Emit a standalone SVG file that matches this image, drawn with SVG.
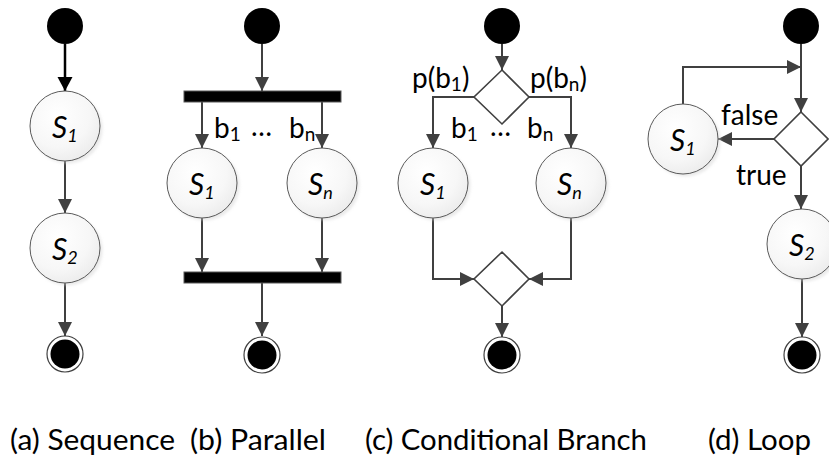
<svg xmlns="http://www.w3.org/2000/svg" width="829" height="461" viewBox="0 0 829 461">
<defs>
<style>
.ln{fill:none;stroke:#404040;stroke-width:2}
.lnb{fill:none;stroke:#000;stroke-width:2.5}
.st{fill:url(#g);stroke:#5a5a5a;stroke-width:1}
.sh{fill:#d4d4d4;opacity:0.5;filter:url(#blur)}
.start{fill:#000}
.endo{fill:#fff;stroke:#404040;stroke-width:1.2}
.endi{fill:#000}
.bar{fill:#000;stroke:#595959;stroke-width:1}
.dia{fill:#fff;stroke:#404040;stroke-width:1.6}
.lbl{font-family:Lato,"Liberation Sans",sans-serif;font-size:28px;fill:#000}
.s{font-family:Lato,"Liberation Sans",sans-serif;font-size:30px;font-style:italic;fill:#000}
.sub{font-size:18px}
.cap{font-family:Lato,"Liberation Sans",sans-serif;font-size:29px;fill:#000}
</style>
<radialGradient id="g" cx="0.4" cy="0.35" r="0.75">
<stop offset="0" stop-color="#ffffff"/>
<stop offset="0.6" stop-color="#f7f7f7"/>
<stop offset="1" stop-color="#e9e9e9"/>
</radialGradient>
<filter id="blur" x="-20%" y="-20%" width="140%" height="140%"><feGaussianBlur stdDeviation="1.5"/></filter>
<marker id="ah" markerWidth="15" markerHeight="15" refX="14" refY="7" orient="auto" markerUnits="userSpaceOnUse">
<path d="M0,0 L14,7 L0,14 Z" fill="#404040"/>
</marker>
<marker id="ahb" markerWidth="16" markerHeight="16" refX="14" refY="7.5" orient="auto" markerUnits="userSpaceOnUse">
<path d="M0,0 L14,7.5 L0,15 Z" fill="#000"/>
</marker>
</defs>
<rect width="829" height="461" fill="#fff"/>

<g id="connectors">
<!-- (a) -->
<line class="lnb" x1="65" y1="44" x2="65" y2="91" marker-end="url(#ahb)"/>
<line class="ln" x1="65" y1="161" x2="65" y2="213" marker-end="url(#ah)"/>
<line class="ln" x1="65" y1="283" x2="65" y2="336" marker-end="url(#ah)"/>
<!-- (b) -->
<line class="ln" x1="262" y1="44" x2="262" y2="91" marker-end="url(#ah)"/>
<line class="ln" x1="202" y1="102" x2="202" y2="148" marker-end="url(#ah)"/>
<line class="ln" x1="322" y1="102" x2="322" y2="148" marker-end="url(#ah)"/>
<line class="ln" x1="202" y1="218" x2="202" y2="272" marker-end="url(#ah)"/>
<line class="ln" x1="322" y1="218" x2="322" y2="272" marker-end="url(#ah)"/>
<line class="ln" x1="262" y1="283" x2="262" y2="336" marker-end="url(#ah)"/>
<!-- (c) -->
<line class="ln" x1="502" y1="44" x2="502" y2="70" marker-end="url(#ah)"/>
<polyline class="ln" points="474,97 433,97 433,148" marker-end="url(#ah)"/>
<polyline class="ln" points="529,97 571,97 571,148" marker-end="url(#ah)"/>
<polyline class="ln" points="433,218 433,279 474,279" marker-end="url(#ah)"/>
<polyline class="ln" points="571,218 571,279 529,279" marker-end="url(#ah)"/>
<line class="ln" x1="502" y1="306" x2="502" y2="337" marker-end="url(#ah)"/>
<!-- (d) -->
<line class="ln" x1="801" y1="44" x2="801" y2="112" marker-end="url(#ah)"/>
<polyline class="ln" points="683,104 683,67 801,67" marker-end="url(#ah)"/>
<line class="ln" x1="774" y1="139" x2="718" y2="139" marker-end="url(#ah)"/>
<line class="ln" x1="801" y1="166" x2="801" y2="209" marker-end="url(#ah)"/>
<line class="ln" x1="802" y1="279" x2="802" y2="337" marker-end="url(#ah)"/>
</g>

<!-- (a) Sequence -->
<g id="a-start"><circle class="start" cx="65" cy="26" r="18"/></g>
<g id="a-s1"><circle class="sh" cx="67.5" cy="128.5" r="35"/><circle class="st" cx="65" cy="126" r="35"/><text class="s" x="52" y="138">S<tspan class="sub" dy="4">1</tspan></text></g>
<g id="a-s2"><circle class="sh" cx="67.5" cy="250.5" r="35"/><circle class="st" cx="65" cy="248" r="35"/><text class="s" x="52" y="260">S<tspan class="sub" dy="4">2</tspan></text></g>
<g id="a-end"><circle class="endo" cx="65" cy="354" r="18"/><circle class="endi" cx="65" cy="354" r="14.5"/></g>

<!-- (b) Parallel -->
<g id="b-start"><circle class="start" cx="262" cy="26" r="18"/></g>
<g id="b-fork"><rect class="bar" x="184" y="91" width="157" height="11"/></g>
<g id="b-s1"><circle class="sh" cx="204.5" cy="185.5" r="35"/><circle class="st" cx="202" cy="183" r="35"/><text class="s" x="189" y="195">S<tspan class="sub" dy="4">1</tspan></text></g>
<g id="b-sn"><circle class="sh" cx="324.5" cy="185.5" r="35"/><circle class="st" cx="322" cy="183" r="35"/><text class="s" x="308" y="195">S<tspan class="sub" dy="4">n</tspan></text></g>
<g id="b-join"><rect class="bar" x="184" y="272" width="157" height="11"/></g>
<g id="b-end"><circle class="endo" cx="262" cy="355" r="18"/><circle class="endi" cx="262" cy="355" r="14.5"/></g>
<g id="b-labels">
<text class="lbl" x="214" y="138">b<tspan font-size="19" dy="3">1</tspan></text>
<text class="lbl" x="251" y="136">…</text>
<text class="lbl" x="289" y="138">b<tspan font-size="19" dy="3">n</tspan></text>
</g>

<!-- (c) Conditional Branch -->
<g id="c-start"><circle class="start" cx="502" cy="26" r="18"/></g>
<g id="c-decision"><polygon class="dia" points="502,70 529,97 502,124 474,97"/></g>
<g id="c-s1"><circle class="sh" cx="435.5" cy="185.5" r="35"/><circle class="st" cx="433" cy="183" r="35"/><text class="s" x="420" y="195">S<tspan class="sub" dy="4">1</tspan></text></g>
<g id="c-sn"><circle class="sh" cx="573.5" cy="185.5" r="35"/><circle class="st" cx="571" cy="183" r="35"/><text class="s" x="557" y="195">S<tspan class="sub" dy="4">n</tspan></text></g>
<g id="c-merge"><polygon class="dia" points="502,252 529,279 502,306 474,279"/></g>
<g id="c-end"><circle class="endo" cx="502" cy="355" r="18"/><circle class="endi" cx="502" cy="355" r="14.5"/></g>
<g id="c-labels">
<text class="lbl" x="412" y="88">p(b<tspan font-size="19" dy="3">1</tspan><tspan dy="-3">)</tspan></text>
<text class="lbl" x="530" y="88">p(b<tspan font-size="19" dy="3">n</tspan><tspan dy="-3">)</tspan></text>
<text class="lbl" x="451" y="138">b<tspan font-size="19" dy="3">1</tspan></text>
<text class="lbl" x="490" y="136">…</text>
<text class="lbl" x="527" y="138">b<tspan font-size="19" dy="3">n</tspan></text>
</g>

<!-- (d) Loop -->
<g id="d-start"><circle class="start" cx="801" cy="26" r="18"/></g>
<g id="d-decision"><polygon class="dia" points="801,112 828,139 801,166 774,139"/></g>
<g id="d-s1"><circle class="sh" cx="685.5" cy="141.5" r="35"/><circle class="st" cx="683" cy="139" r="35"/><text class="s" x="670" y="151">S<tspan class="sub" dy="4">1</tspan></text></g>
<g id="d-s2"><circle class="sh" cx="804.5" cy="246.5" r="35"/><circle class="st" cx="802" cy="244" r="35"/><text class="s" x="789" y="256">S<tspan class="sub" dy="4">2</tspan></text></g>
<g id="d-end"><circle class="endo" cx="802" cy="355" r="18"/><circle class="endi" cx="802" cy="355" r="14.5"/></g>
<g id="d-labels">
<text class="lbl" x="721" y="125">false</text>
<text class="lbl" x="736" y="185">true</text>
</g>

<g id="captions">
<text class="cap" x="10" y="450" textLength="165" lengthAdjust="spacingAndGlyphs">(a) Sequence</text>
<text class="cap" x="190" y="450" textLength="136" lengthAdjust="spacingAndGlyphs">(b) Parallel</text>
<text class="cap" x="365" y="450" textLength="282" lengthAdjust="spacingAndGlyphs">(c) Conditional Branch</text>
<text class="cap" x="708" y="450" textLength="103" lengthAdjust="spacingAndGlyphs">(d) Loop</text>
</g>
</svg>
